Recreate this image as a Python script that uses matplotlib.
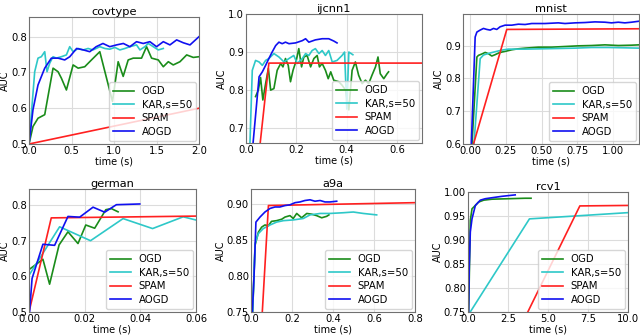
import numpy as np
import matplotlib
matplotlib.use('Agg')
import matplotlib.pyplot as plt

# ---- covtype
cov_ogd_t = [0, 0.047, 0.106, 0.185, 0.283, 0.342, 0.381, 0.44, 0.519, 0.578, 0.656, 0.735, 0.833,
             0.982, 1.049, 1.108, 1.167, 1.226, 1.324, 1.383, 1.442, 1.521, 1.58, 1.639, 1.697,
             1.776, 1.855, 1.933, 2.0]
cov_ogd_auc = [0.5, 0.549, 0.572, 0.582, 0.712, 0.702, 0.684, 0.651, 0.721, 0.712, 0.716, 0.735, 0.758,
               0.619, 0.73, 0.689, 0.735, 0.74, 0.74, 0.772, 0.74, 0.735, 0.716, 0.73, 0.721,
               0.73, 0.749, 0.742, 0.744]
cov_kar_t = [0, 0.067, 0.106, 0.145, 0.185, 0.212, 0.244, 0.283, 0.322, 0.381, 0.44, 0.479, 0.519,
             0.578, 0.637, 0.695, 0.754, 0.833, 0.892, 0.951, 1.01, 1.069, 1.128, 1.187, 1.265,
             1.305, 1.363, 1.403, 1.462, 1.521, 1.58]
cov_kar_auc = [0.5, 0.702, 0.74, 0.744, 0.758, 0.702, 0.726, 0.744, 0.74, 0.744, 0.749, 0.772, 0.758,
               0.767, 0.763, 0.767, 0.763, 0.772, 0.767, 0.765, 0.77, 0.763, 0.767, 0.772, 0.777,
               0.763, 0.772, 0.781, 0.772, 0.763, 0.767]
cov_spam_t = [0, 2.1]
cov_spam_auc = [0.5, 0.605]
cov_aogd_t = [0, 0.047, 0.106, 0.185, 0.263, 0.342, 0.42, 0.48, 0.56, 0.64, 0.715, 0.79, 0.87, 0.95,
              1.03, 1.11, 1.187, 1.265, 1.344, 1.422, 1.501, 1.58, 1.658, 1.737, 1.815, 1.894, 2.0]
cov_aogd_auc = [0.5, 0.596, 0.665, 0.712, 0.74, 0.74, 0.735, 0.744, 0.767, 0.763, 0.758, 0.772, 0.781,
                0.772, 0.777, 0.781, 0.772, 0.786, 0.781, 0.786, 0.772, 0.786, 0.777, 0.791, 0.783,
                0.777, 0.8]

# ---- ijcnn1
ij_ogd_t = [0.038, 0.049, 0.058, 0.067, 0.078, 0.089, 0.098, 0.111, 0.124, 0.138, 0.147, 0.157, 0.168,
            0.177, 0.187, 0.2, 0.21, 0.221, 0.23, 0.243, 0.257, 0.27, 0.283, 0.292, 0.303, 0.316,
            0.327, 0.337, 0.349, 0.369, 0.382, 0.396, 0.409, 0.422, 0.435, 0.448, 0.462, 0.475,
            0.488, 0.501, 0.515, 0.525, 0.534, 0.548, 0.561, 0.567]
ij_ogd_auc = [0.783, 0.8, 0.833, 0.774, 0.817, 0.857, 0.8, 0.804, 0.852, 0.87, 0.861, 0.883, 0.865,
              0.822, 0.852, 0.878, 0.909, 0.861, 0.887, 0.891, 0.861, 0.883, 0.891, 0.861, 0.87, 0.852,
              0.83, 0.848, 0.826, 0.822, 0.813, 0.8, 0.748, 0.852, 0.874, 0.839, 0.817, 0.826,
              0.817, 0.839, 0.861, 0.887, 0.843, 0.83, 0.843, 0.848]
ij_kar_t = [0.008, 0.025, 0.038, 0.052, 0.065, 0.078, 0.091, 0.111, 0.131, 0.151, 0.171, 0.19, 0.204,
            0.224, 0.237, 0.25, 0.263, 0.276, 0.29, 0.303, 0.316, 0.329, 0.343, 0.362, 0.382, 0.392,
            0.401, 0.409, 0.425]
ij_kar_auc = [0.5, 0.852, 0.878, 0.874, 0.865, 0.878, 0.883, 0.896, 0.887, 0.874, 0.883, 0.891, 0.87,
              0.883, 0.896, 0.891, 0.904, 0.909, 0.896, 0.904, 0.891, 0.904, 0.874, 0.878, 0.891, 0.9,
              0.75, 0.9, 0.893]
ij_spam_t = [0.03, 0.091, 0.7]
ij_spam_auc = [0.5, 0.871, 0.871]
ij_aogd_t = [0.006, 0.052, 0.065, 0.078, 0.091, 0.104, 0.118, 0.131, 0.144, 0.157, 0.171, 0.197, 0.224,
             0.237, 0.25, 0.276, 0.303, 0.329, 0.349, 0.362]
ij_aogd_auc = [0.5, 0.835, 0.848, 0.865, 0.883, 0.9, 0.917, 0.926, 0.922, 0.926, 0.922, 0.924, 0.93,
               0.935, 0.926, 0.932, 0.935, 0.935, 0.929, 0.924]

# ---- mnist
mn_ogd_t = [0.0, 0.047, 0.058, 0.081, 0.105, 0.128, 0.151, 0.174, 0.198, 0.221, 0.244, 0.291, 0.337,
            0.384, 0.477, 0.57, 0.663, 0.756, 0.849, 0.942, 1.035, 1.128, 1.18]
mn_ogd_auc = [0.5, 0.865, 0.87, 0.874, 0.879, 0.875, 0.868, 0.872, 0.877, 0.88, 0.882, 0.887, 0.89,
              0.892, 0.895, 0.895, 0.897, 0.899, 0.9, 0.902, 0.9, 0.901, 0.902]
mn_kar_t = [0.01, 0.07, 0.093, 0.128, 0.174, 0.221, 0.267, 0.384, 0.5, 0.616, 0.733, 0.849, 0.965,
            1.081, 1.18]
mn_kar_auc = [0.5, 0.86, 0.871, 0.876, 0.881, 0.886, 0.889, 0.889, 0.89, 0.891, 0.892, 0.894, 0.894,
              0.893, 0.892]
mn_spam_t = [0.0, 0.256, 1.18]
mn_spam_auc = [0.565, 0.949, 0.951]
mn_aogd_t = [0.0, 0.035, 0.047, 0.07, 0.093, 0.116, 0.14, 0.163, 0.186, 0.209, 0.244, 0.291, 0.337,
             0.384, 0.43, 0.523, 0.616, 0.663, 0.733, 0.802, 0.872, 0.942, 0.988, 1.035, 1.081,
             1.128, 1.18]
mn_aogd_auc = [0.5, 0.926, 0.941, 0.947, 0.952, 0.949, 0.947, 0.952, 0.949, 0.957, 0.962, 0.962, 0.965,
               0.964, 0.967, 0.967, 0.969, 0.967, 0.969, 0.97, 0.972, 0.971, 0.969, 0.971, 0.969,
               0.971, 0.974]

# ---- german
ge_ogd_t = [0.0002, 0.005, 0.0074, 0.0108, 0.014, 0.0176, 0.0204, 0.0236, 0.0276, 0.0296, 0.032]
ge_ogd_auc = [0.62, 0.648, 0.578, 0.688, 0.725, 0.692, 0.744, 0.735, 0.787, 0.79, 0.781]
ge_kar_t = [0.0, 0.011, 0.0221, 0.0338, 0.0444, 0.0554, 0.06]
ge_kar_auc = [0.603, 0.739, 0.7, 0.762, 0.734, 0.767, 0.758]
ge_spam_t = [0.0, 0.008, 0.06]
ge_spam_auc = [0.5, 0.764, 0.769]
ge_aogd_t = [0.0002, 0.0011, 0.005, 0.0092, 0.014, 0.0182, 0.023, 0.0272, 0.0314, 0.0398]
ge_aogd_auc = [0.5, 0.594, 0.69, 0.687, 0.768, 0.766, 0.794, 0.78, 0.801, 0.803]

# ---- a9a
a9_ogd_t = [0.008, 0.02, 0.036, 0.052, 0.068, 0.085, 0.1, 0.125, 0.15, 0.166, 0.19, 0.206, 0.223,
            0.247, 0.272, 0.296, 0.32, 0.345, 0.369, 0.38]
a9_ogd_auc = [0.75, 0.843, 0.861, 0.868, 0.871, 0.87, 0.876, 0.877, 0.879, 0.882, 0.884, 0.88, 0.887,
              0.881, 0.887, 0.886, 0.884, 0.881, 0.883, 0.885]
a9_kar_t = [0.008, 0.02, 0.036, 0.06, 0.093, 0.125, 0.158, 0.206, 0.255, 0.288, 0.337, 0.385, 0.45,
            0.499, 0.548, 0.613]
a9_kar_auc = [0.75, 0.845, 0.859, 0.866, 0.871, 0.875, 0.877, 0.878, 0.88, 0.885, 0.887, 0.887, 0.888,
              0.889, 0.887, 0.885]
a9_spam_t = [0.045, 0.085, 0.8]
a9_spam_auc = [0.7, 0.898, 0.902]
a9_aogd_t = [0.0065, 0.015, 0.024, 0.044, 0.068, 0.093, 0.117, 0.141, 0.166, 0.19, 0.215, 0.239, 0.263,
             0.288, 0.312, 0.337, 0.361, 0.385, 0.418]
a9_aogd_auc = [0.75, 0.801, 0.875, 0.882, 0.889, 0.894, 0.896, 0.896, 0.898, 0.899, 0.902, 0.903, 0.905,
               0.906, 0.904, 0.905, 0.903, 0.903, 0.904]

# ---- rcv1
rc_ogd_t = [0.04, 0.145, 0.25, 0.46, 0.66, 0.98, 1.49, 2.53, 3.57, 3.94]
rc_ogd_auc = [0.75, 0.941, 0.965, 0.972, 0.979, 0.983, 0.985, 0.986, 0.987, 0.987]
rc_kar_t = [0.1, 3.84, 10.0]
rc_kar_auc = [0.748, 0.944, 0.957]
rc_spam_t = [3.0, 6.99, 10.0]
rc_spam_auc = [0.70, 0.971, 0.972]
rc_aogd_t = [0.03, 0.08, 0.145, 0.25, 0.46, 0.77, 1.08, 1.49, 2.12, 2.95]
rc_aogd_auc = [0.74, 0.847, 0.917, 0.944, 0.972, 0.983, 0.986, 0.988, 0.991, 0.994]

titles = ['covtype', 'ijcnn1', 'mnist', 'german', 'a9a', 'rcv1']
methods = ['OGD', 'KAR,s=50', 'SPAM', 'AOGD']
colors = ['#1a8c1a', '#2ec8c8', '#ff2020', '#1010f0']

series = [
    [(cov_ogd_t, cov_ogd_auc), (cov_kar_t, cov_kar_auc), (cov_spam_t, cov_spam_auc), (cov_aogd_t, cov_aogd_auc)],
    [(ij_ogd_t, ij_ogd_auc), (ij_kar_t, ij_kar_auc), (ij_spam_t, ij_spam_auc), (ij_aogd_t, ij_aogd_auc)],
    [(mn_ogd_t, mn_ogd_auc), (mn_kar_t, mn_kar_auc), (mn_spam_t, mn_spam_auc), (mn_aogd_t, mn_aogd_auc)],
    [(ge_ogd_t, ge_ogd_auc), (ge_kar_t, ge_kar_auc), (ge_spam_t, ge_spam_auc), (ge_aogd_t, ge_aogd_auc)],
    [(a9_ogd_t, a9_ogd_auc), (a9_kar_t, a9_kar_auc), (a9_spam_t, a9_spam_auc), (a9_aogd_t, a9_aogd_auc)],
    [(rc_ogd_t, rc_ogd_auc), (rc_kar_t, rc_kar_auc), (rc_spam_t, rc_spam_auc), (rc_aogd_t, rc_aogd_auc)],
]

# axes boxes in pixels: left, right, top, bottom
boxes = [(29, 199, 17, 144), (246, 422, 14, 143), (463, 639, 14, 144),
         (29, 196, 189, 312), (251, 415, 189, 312), (468, 628, 192, 312)]
xlims = [(0, 2.0), (0, 0.7), (-0.05, 1.18), (0, 0.06), (0, 0.8), (0, 10)]
ylims = [(0.5, 0.855), (0.661, 1.0), (0.6, 0.996), (0.5, 0.845), (0.75, 0.921), (0.75, 1.0)]
xticks = [[0, 0.5, 1.0, 1.5, 2.0], [0, 0.2, 0.4, 0.6], [0, 0.25, 0.5, 0.75, 1.0],
          [0, 0.02, 0.04, 0.06], [0, 0.2, 0.4, 0.6, 0.8], [0, 2.5, 5.0, 7.5, 10.0]]
yticks = [[0.5, 0.6, 0.7, 0.8], [0.7, 0.8, 0.9, 1.0], [0.6, 0.7, 0.8, 0.9],
          [0.5, 0.6, 0.7, 0.8], [0.75, 0.80, 0.85, 0.90], [0.75, 0.80, 0.85, 0.90, 0.95, 1.00]]
xfmt = ['%.1f', '%.1f', '%.2f', '%.2f', '%.1f', '%.1f']
yfmt = ['%.1f', '%.1f', '%.1f', '%.1f', '%.2f', '%.2f']

W, H = 640, 335
fig = plt.figure(figsize=(6.4, 3.35), dpi=100)

for i in range(6):
    l, r, t, b = boxes[i]
    ax = fig.add_axes([l / W, 1 - b / H, (r - l) / W, (b - t) / H])
    for (tt, aa), m, c in zip(series[i], methods, colors):
        ax.plot(tt, aa, color=c, lw=1.2, label=m)
    ax.set_xlim(xlims[i])
    ax.set_ylim(ylims[i])
    ax.set_xticks(xticks[i])
    ax.set_yticks(yticks[i])
    ax.xaxis.set_major_formatter(matplotlib.ticker.FormatStrFormatter(xfmt[i]))
    ax.yaxis.set_major_formatter(matplotlib.ticker.FormatStrFormatter(yfmt[i]))
    ax.tick_params(labelsize=7.2, length=0, pad=1.5)
    ax.grid(True, color='#dcdcdc', lw=0.8)
    for s in ax.spines.values():
        s.set_color('#707070')
        s.set_linewidth(0.8)
    ax.set_title(titles[i], fontsize=8.2, pad=1.5)
    ax.set_xlabel('time (s)', fontsize=7, labelpad=0)
    ax.set_ylabel('AUC', fontsize=7, labelpad=0.5)
    ax.legend(loc='lower right', fontsize=7.3, labelspacing=0.35, borderaxespad=0.3,
              handlelength=2.0, fancybox=True)

fig.savefig('out.png', dpi=100)
